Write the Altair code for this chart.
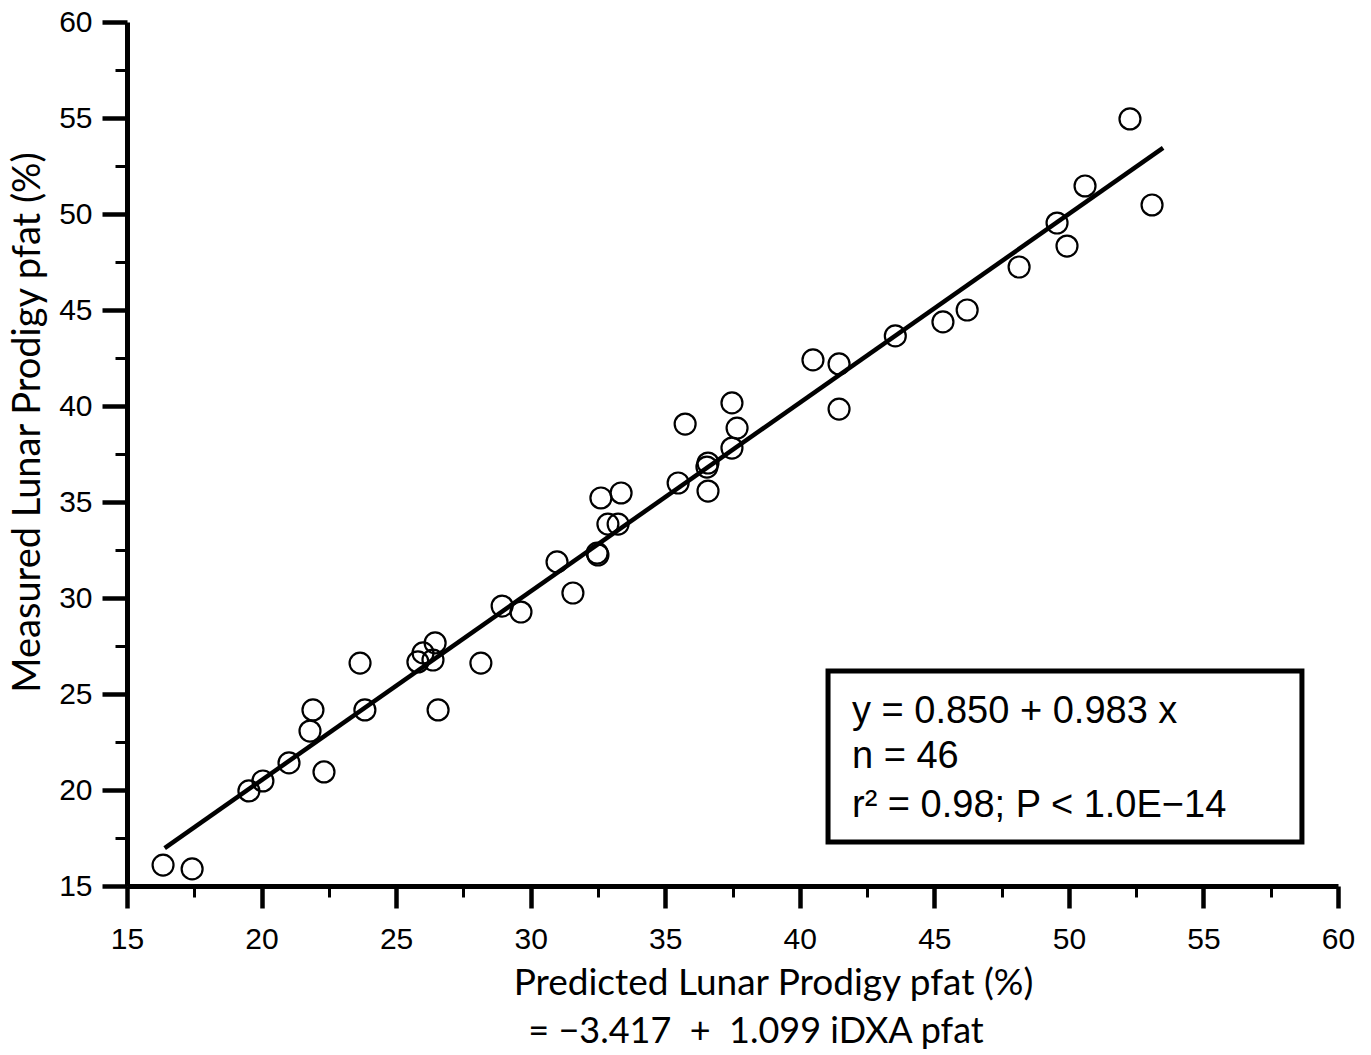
import altair as alt
import pandas as pd

# Predicted vs measured percent body fat (Lunar Prodigy), n = 46
predicted = [16.34, 17.42, 19.53, 20.05, 21.02, 22.32, 21.80, 21.91, 23.66, 23.84,
             25.81, 26.00, 26.45, 26.37, 26.56, 28.15, 28.94, 29.64, 30.98, 31.57,
             32.47, 32.50, 32.61, 32.87, 33.25, 33.36, 35.48, 35.74, 36.59, 36.55,
             36.59, 37.48, 37.67, 37.48, 40.49, 41.46, 41.46, 43.55, 45.32, 46.22,
             48.15, 49.56, 49.93, 50.60, 52.27, 53.09]
measured = [16.09, 15.89, 19.95, 20.47, 21.41, 20.94, 23.07, 24.17, 26.61, 24.17,
            26.67, 27.14, 27.66, 26.77, 24.17, 26.61, 29.58, 29.27, 31.88, 30.26,
            32.34, 32.24, 35.21, 33.85, 33.85, 35.47, 35.99, 39.06, 37.03, 36.82,
            35.57, 37.81, 38.85, 40.16, 42.40, 42.19, 39.84, 43.65, 44.38, 45.00,
            47.24, 49.53, 48.33, 51.46, 54.95, 50.47]

# Fitted line y = 0.850 + 0.983 x
intercept = 0.850
slope = 0.983
fit_x = [16.4, 53.5]

stats_lines = ["y = 0.850 + 0.983 x", "n = 46", "r\u00b2 = 0.98; P < 1.0E\u221214"]
stats_y = [23.49, 21.15, 18.59]
stats_x = 41.94
box_x = [41.05, 58.66]
box_y = [17.29, 26.2]

x_title = "Predicted Lunar Prodigy pfat (%)"
x_subtitle = "= \u22123.417\u00a0 +\u00a0 1.099 iDXA pfat"
y_title = "Measured Lunar Prodigy pfat (%)"

tick_values = [15 + 2.5 * i for i in range(19)]

points = pd.DataFrame({"pred": predicted, "meas": measured})
fit = pd.DataFrame({"pred": fit_x, "meas": [intercept + slope * v for v in fit_x]})
stats = pd.DataFrame({"label": stats_lines, "y": stats_y, "x": [stats_x] * 3})
box = pd.DataFrame({"x": [box_x[0]], "x2": [box_x[1]], "y": [box_y[0]], "y2": [box_y[1]]})

W, H = 1211, 864
major = "datum.value % 5 === 0"

x_scale = alt.Scale(domain=[15, 60], nice=False, zero=False)
y_scale = alt.Scale(domain=[15, 60], nice=False, zero=False)

common_axis = dict(
    values=tick_values,
    labelExpr=f"{major} ? datum.label : ''",
    labelFlush=False,
    labelOverlap=False,
    tickWidth={"condition": {"test": major, "value": 4.5}, "value": 3},
    tickColor="black",
    domainColor="black",
    domainWidth=5,
    labelColor="black",
    labelFont="Liberation Sans",
    labelFontSize=30,
    titleColor="black",
    titleFont="Lato",
    titleFontWeight="normal",
    titleAlign="center",
    titleBaseline="alphabetic",
    grid=False,
)

x_axis = alt.Axis(
    tickSize={"condition": {"test": major, "value": 22}, "value": 11},
    labelPadding=16,
    title=x_title,
    titleX=646,
    titleY=108,
    titleFontSize=37,
    **common_axis,
)
y_axis = alt.Axis(
    tickSize={"condition": {"test": major, "value": 25}, "value": 12},
    labelPadding=10,
    title=y_title,
    titleX=-88,
    titleY=400,
    titleAngle=270,
    titleFontSize=38,
    **common_axis,
)

scatter = alt.Chart(points).mark_point(
    shape="circle", filled=False, size=440, strokeWidth=2.2, color="black", opacity=1
).encode(
    x=alt.X("pred:Q", scale=x_scale, axis=x_axis),
    y=alt.Y("meas:Q", scale=y_scale, axis=y_axis),
)

line = alt.Chart(fit).mark_line(color="black", strokeWidth=4.5).encode(
    x=alt.X("pred:Q", scale=x_scale),
    y=alt.Y("meas:Q", scale=y_scale),
)

frame = alt.Chart(box).mark_rect(fill="white", stroke="black", strokeWidth=5).encode(
    x=alt.X("x:Q", scale=x_scale),
    x2="x2:Q",
    y=alt.Y("y:Q", scale=y_scale),
    y2="y2:Q",
)

stats_text = alt.Chart(stats).mark_text(
    align="left", baseline="alphabetic", font="Liberation Sans", fontSize=38, color="black"
).encode(
    x=alt.X("x:Q", scale=x_scale),
    y=alt.Y("y:Q", scale=y_scale),
    text="label:N",
)

subtitle = alt.Chart(pd.DataFrame({"t": [x_subtitle]})).mark_text(
    align="center", baseline="alphabetic", font="Lato", fontSize=36, color="black"
).encode(
    x=alt.value(629),
    y=alt.value(1021),
    text="t:N",
)

chart = alt.layer(scatter, line, frame, stats_text, subtitle).properties(
    width=W,
    height=H,
    autosize=alt.AutoSizeParams(type="none"),
    padding={"left": 127, "top": 22, "right": 33, "bottom": 169},
).configure(background="white").configure_view(stroke=None)

chart.save("out.html", embed_options={"renderer": "svg", "actions": False})
